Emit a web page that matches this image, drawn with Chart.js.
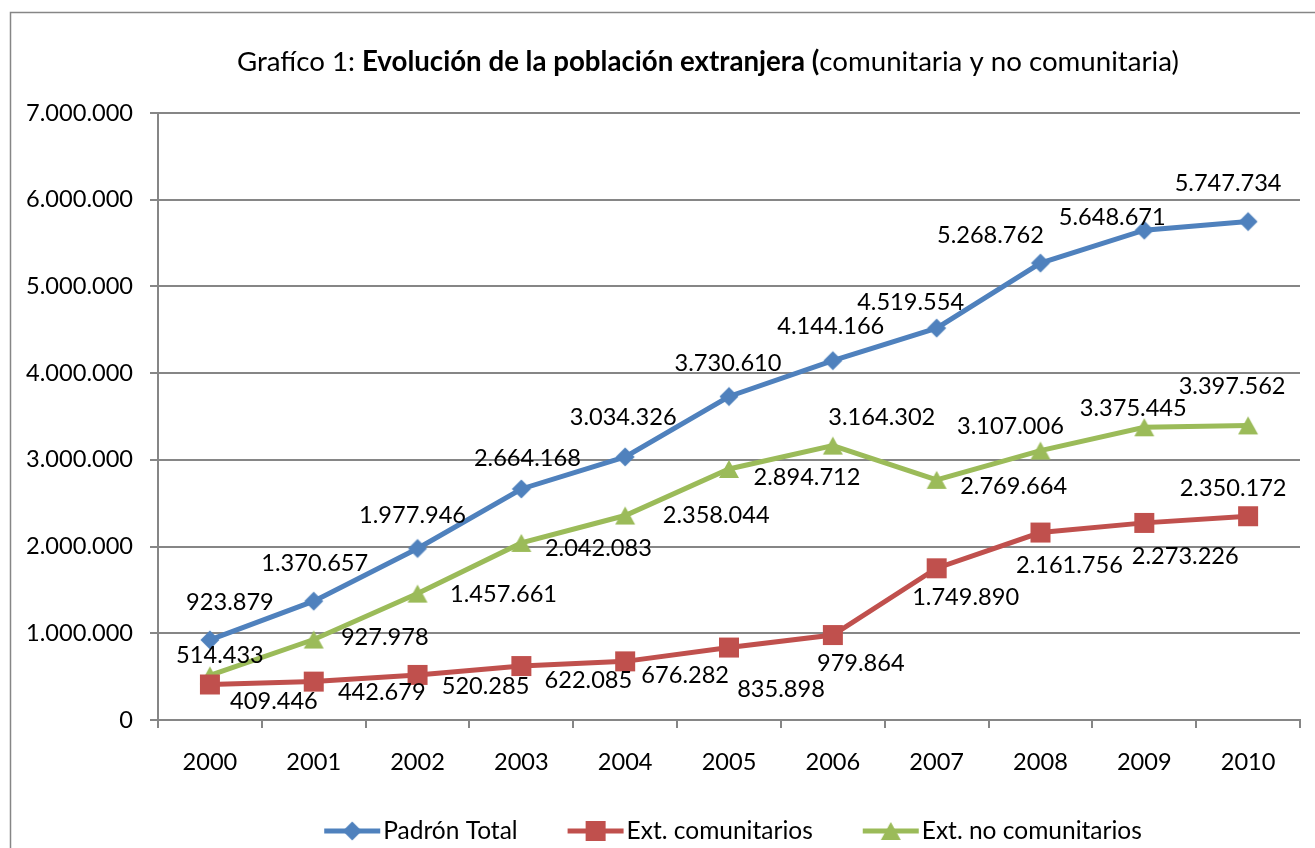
<!DOCTYPE html>
<html>
<head>
<meta charset="utf-8">
<title>Evolución de la población extranjera</title>
<script src="https://cdn.jsdelivr.net/npm/chart.js@4.4.1/dist/chart.umd.min.js"></script>
<style>
    body { margin: 0; background: #ffffff; }
    canvas { display: block; }
</style>
</head>
<body>
<canvas id="poblacionChart" width="1315" height="848"></canvas>
<script>
// DATA
const years = ['2000', '2001', '2002', '2003', '2004', '2005', '2006', '2007', '2008', '2009', '2010'];
const padronTotal = [923879, 1370657, 1977946, 2664168, 3034326, 3730610, 4144166, 4519554, 5268762, 5648671, 5747734];
const extComunitarios = [409446, 442679, 520285, 622085, 676282, 835898, 979864, 1749890, 2161756, 2273226, 2350172];
const extNoComunitarios = [514433, 927978, 1457661, 2042083, 2358044, 2894712, 3164302, 2769664, 3107006, 3375445, 3397562];
const yTickValues = [0, 1000000, 2000000, 3000000, 4000000, 5000000, 6000000, 7000000];

// label placement (dx, dy from the point), as in the original sheet
const padronLabelOffsets = [[20, -37], [1, -38], [-5, -33], [6, -31], [-2, -39], [-1, -33], [-2, -34], [-26, -26], [-50, -28], [-32, -13], [-20, -38]];
const comunitLabelOffsets = [[64, 17], [68, 11], [68, 12], [67, 14], [60, 14], [52, 42], [28, 28], [29, 29], [29, 33], [41, 34], [-15, -28]];
const noComunitLabelOffsets = [[10, -20], [71, -2], [86, 1], [77, 5], [91, 0], [78, 8], [49, -28], [77, 7], [-30, -24], [-11, -19], [-16, -39]];

const BLUE = '#4F81BD';
const RED = '#C0504D';
const GREEN = '#9BBB59';
const GRAY = '#868686';
const FONT = 'Lato';
const NUM_SIZE = 23.6;

// thousands with dots: 5747734 -> 5.747.734
function fmt(v) {
    return String(v).replace(/\B(?=(\d{3})+(?!\d))/g, '.');
}

// Excel-like markers drawn on small canvases
function makeMarker(shape, color) {
    const c = document.createElement('canvas');
    c.width = 22;
    c.height = 22;
    const g = c.getContext('2d');
    g.fillStyle = color;
    g.beginPath();
    if (shape === 'diamond') {
        g.moveTo(11, 1.5); g.lineTo(20.5, 11); g.lineTo(11, 20.5); g.lineTo(1.5, 11);
    } else if (shape === 'square') {
        g.rect(1, 1, 20, 20);
    } else {
        g.moveTo(11, 2); g.lineTo(21, 20); g.lineTo(1, 20);
    }
    g.closePath();
    g.fill();
    return c;
}

const markers = {
    blue: makeMarker('diamond', BLUE),
    red: makeMarker('square', RED),
    green: makeMarker('triangle', GREEN)
};

const labelOffsets = [padronLabelOffsets, comunitLabelOffsets, noComunitLabelOffsets];

// frame, title, legend and value labels
const excelLookPlugin = {
    id: 'excelLook',
    beforeDraw(chart) {
        const ctx = chart.ctx;
        ctx.save();
        ctx.fillStyle = '#ffffff';
        ctx.fillRect(0, 0, chart.width, chart.height);
        ctx.strokeStyle = GRAY;
        ctx.lineWidth = 1.5;
        ctx.strokeRect(10.5, 12.5, chart.width + 40, chart.height + 40);
        ctx.restore();
    },
    afterDatasetsDraw(chart) {
        const ctx = chart.ctx;
        ctx.save();
        ctx.font = `${NUM_SIZE}px ${FONT}`;
        ctx.fillStyle = '#000000';
        ctx.textAlign = 'center';
        ctx.textBaseline = 'middle';
        chart.data.datasets.forEach((ds, i) => {
            const meta = chart.getDatasetMeta(i);
            meta.data.forEach((pt, j) => {
                const off = labelOffsets[i][j];
                ctx.fillText(fmt(ds.data[j]), pt.x + off[0], pt.y + off[1]);
            });
        });
        ctx.restore();
    },
    afterDraw(chart) {
        const ctx = chart.ctx;
        ctx.save();

        // Title with a bold middle part
        const parts = [
            { text: 'Grafíco 1: ', bold: false },
            { text: 'Evolución de la población extranjera (', bold: true },
            { text: 'comunitaria y no comunitaria)', bold: false }
        ];
        const baseSize = 24;
        let total = 0;
        parts.forEach(p => {
            ctx.font = `${p.bold ? 'bold ' : ''}${baseSize}px ${FONT}`;
            total += ctx.measureText(p.text).width;
        });
        const size = baseSize * 942 / total;
        let tx = 708 - 471;
        ctx.fillStyle = '#000000';
        ctx.textBaseline = 'middle';
        ctx.textAlign = 'left';
        parts.forEach(p => {
            ctx.font = `${p.bold ? 'bold ' : ''}${size}px ${FONT}`;
            ctx.fillText(p.text, tx, 62);
            tx += ctx.measureText(p.text).width;
        });

        // Legend
        ctx.font = `24.5px ${FONT}`;
        const items = chart.data.datasets.map(ds => ({ label: ds.label, color: ds.borderColor, marker: ds.pointStyle }));
        const lineLen = 56, textGap = 3, itemGap = 50;
        let legendWidth = 0;
        items.forEach((it, k) => {
            legendWidth += lineLen + textGap + ctx.measureText(it.label).width + (k < items.length - 1 ? itemGap : 0);
        });
        let lx = 733 - legendWidth / 2;
        const ly = 831;
        items.forEach(it => {
            ctx.strokeStyle = it.color;
            ctx.lineWidth = 5;
            ctx.beginPath();
            ctx.moveTo(lx, ly);
            ctx.lineTo(lx + lineLen, ly);
            ctx.stroke();
            ctx.drawImage(it.marker, lx + lineLen / 2 - 11, ly - 11);
            lx += lineLen + textGap;
            ctx.fillStyle = '#000000';
            ctx.fillText(it.label, lx, ly);
            lx += ctx.measureText(it.label).width + itemGap;
        });

        ctx.restore();
    }
};

console.log('📊 building chart');

const chart = new Chart(document.getElementById('poblacionChart'), {
    type: 'line',
    data: {
        labels: years,
        datasets: [{
            label: 'Padrón Total',
            data: padronTotal,
            borderColor: BLUE,
            backgroundColor: BLUE,
            pointStyle: markers.blue,
            borderWidth: 5,
            pointRadius: 10
        }, {
            label: 'Ext. comunitarios',
            data: extComunitarios,
            borderColor: RED,
            backgroundColor: RED,
            pointStyle: markers.red,
            borderWidth: 5,
            pointRadius: 10
        }, {
            label: 'Ext. no comunitarios',
            data: extNoComunitarios,
            borderColor: GREEN,
            backgroundColor: GREEN,
            pointStyle: markers.green,
            borderWidth: 5,
            pointRadius: 10
        }]
    },
    options: {
        responsive: false,
        animation: false,
        layout: {
            padding: { top: 113, right: 2, left: 0, bottom: 0 }
        },
        plugins: {
            legend: { display: false },
            title: { display: false },
            tooltip: { enabled: false }
        },
        scales: {
            x: {
                offset: true,
                grid: {
                    offset: true,
                    drawOnChartArea: false,
                    tickLength: 8,
                    color: GRAY,
                    lineWidth: 2
                },
                border: { color: GRAY, width: 2 },
                ticks: {
                    color: '#000000',
                    font: { family: FONT, size: NUM_SIZE },
                    padding: 20,
                    maxRotation: 0
                },
                afterFit(scale) { scale.height = 128; }
            },
            y: {
                min: 0,
                max: 7000000,
                afterBuildTicks(scale) {
                    scale.ticks = yTickValues.map(v => ({ value: v }));
                },
                grid: {
                    color: GRAY,
                    lineWidth: 2,
                    tickLength: 8
                },
                border: { color: GRAY, width: 2 },
                ticks: {
                    color: '#000000',
                    font: { family: FONT, size: NUM_SIZE },
                    padding: 17,
                    callback: v => fmt(v)
                },
                afterFit(scale) { scale.width = 158; }
            }
        }
    },
    plugins: [excelLookPlugin]
});

console.log('✅ chart ready');
</script>
</body>
</html>
